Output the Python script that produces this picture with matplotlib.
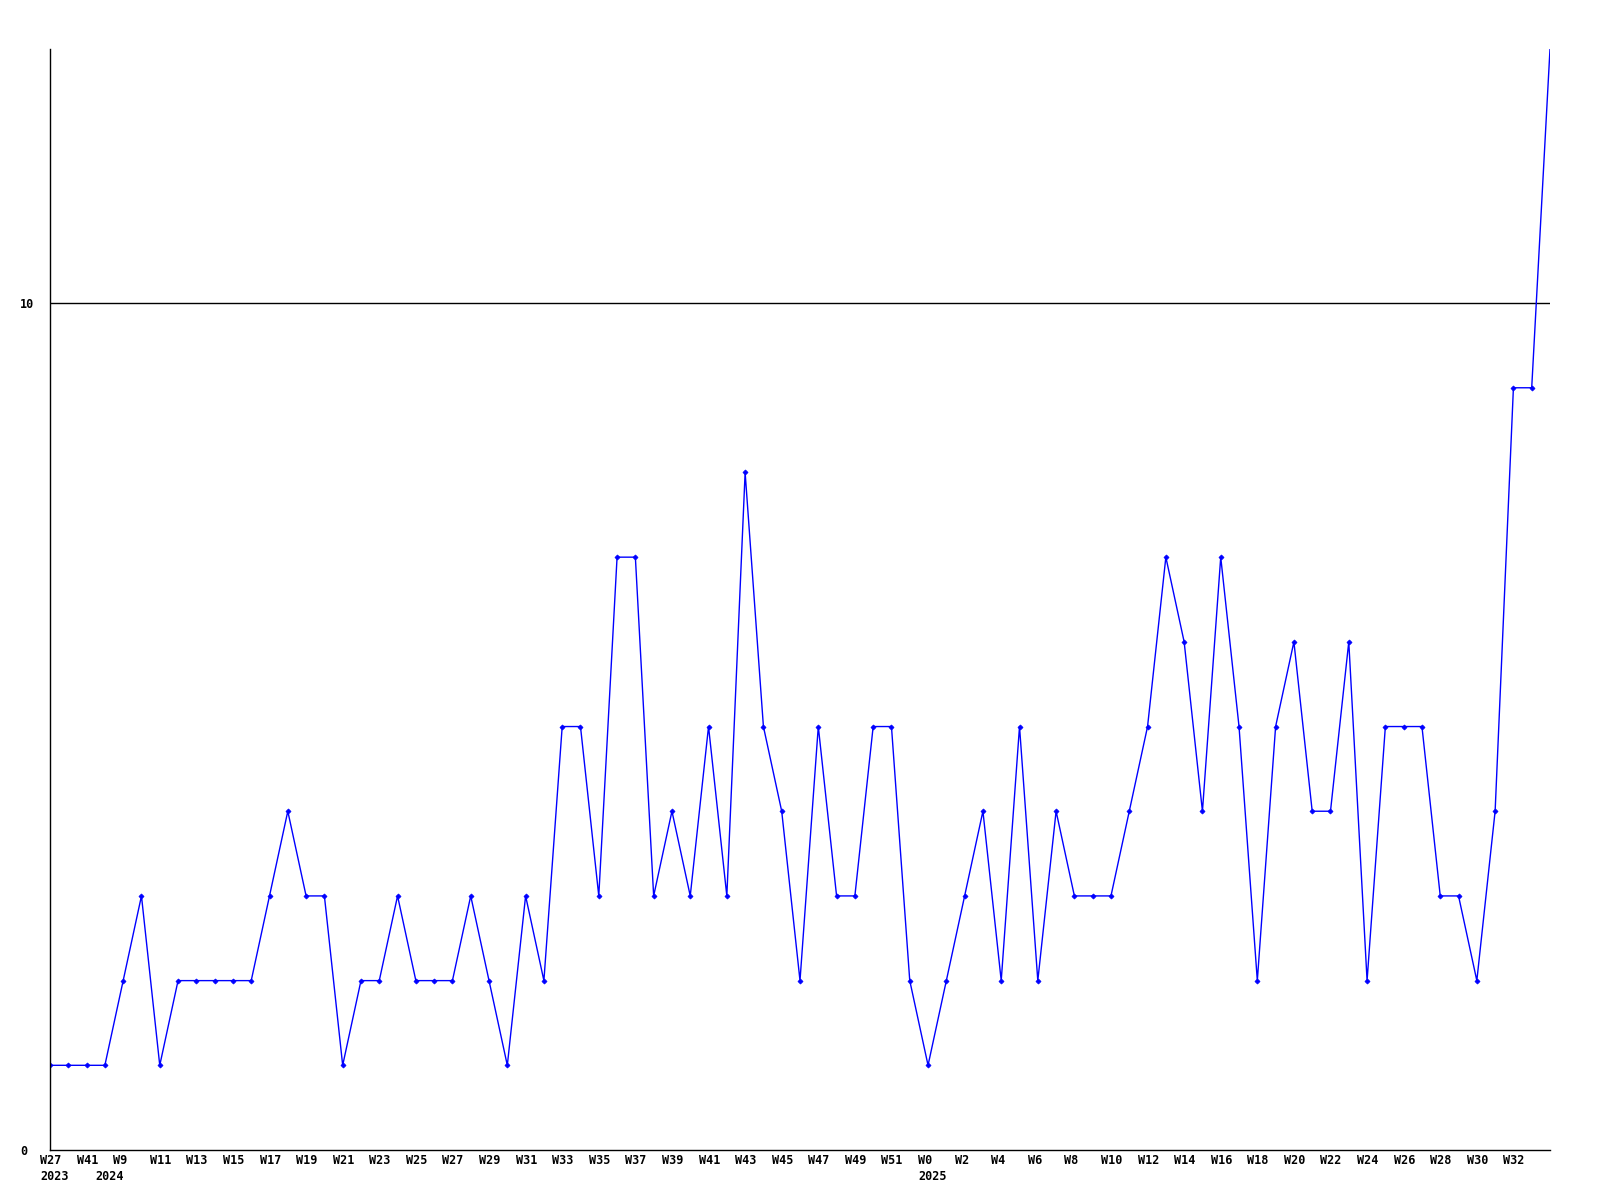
import matplotlib
matplotlib.use("Agg")
import matplotlib.pyplot as plt
from matplotlib.transforms import blended_transform_factory, ScaledTranslation

# weekly counts, one point per week
values = [1, 1, 1, 1, 2, 3, 1, 2, 2, 2, 2, 2, 3, 4, 3, 3, 1, 2, 2, 3,
          2, 2, 2, 3, 2, 1, 3, 2, 5, 5, 3, 7, 7, 3, 4, 3, 5, 3, 8, 5,
          4, 2, 5, 3, 3, 5, 5, 2, 1, 2, 3, 4, 2, 5, 2, 4, 3, 3, 3, 4,
          5, 7, 6, 4, 7, 5, 2, 5, 6, 4, 4, 6, 2, 5, 5, 5, 3, 3, 2, 4,
          9, 9, 13]

week_labels = (["W27", "W41"]
               + ["W%d" % w for w in range(9, 52, 2)]
               + ["W%d" % w for w in range(0, 33, 2)])
week_idx = list(range(0, 81, 2))

year_labels = ["2023", "2024", "2025"]
year_idx = [0, 3, 48]

y_ticks = [0, 10]

font = dict(family="DejaVu Sans Mono", fontweight="bold", fontsize=8.5)

fig = plt.figure(figsize=(16, 12), dpi=100)
ax = fig.add_axes([50 / 1600, 1 - 1150 / 1200, 1500 / 1600, 1101 / 1200])

x = list(range(len(values)))
ax.plot(x, values, color="#0000ff", linewidth=1.0, marker="D",
        markersize=2.6, markeredgewidth=0.5, markevery=list(range(len(values) - 1)))

ax.axhline(10, color="black", linewidth=1.0, zorder=0)

ax.set_xlim(0, len(values) - 1)
ax.set_ylim(0, 13)

for s in ["top", "right"]:
    ax.spines[s].set_visible(False)
for s in ["left", "bottom"]:
    ax.spines[s].set_linewidth(1.0)
    ax.spines[s].set_color("black")

ax.set_xticks([])
ax.set_yticks(y_ticks)
ax.set_yticklabels([str(v) for v in y_ticks], ha="left", **font)
ax.tick_params(axis="y", length=0, pad=21.5)

trans = blended_transform_factory(ax.transData, ax.transAxes)
off1 = trans + ScaledTranslation(-10 / 100, -11 / 100, fig.dpi_scale_trans)
off2 = trans + ScaledTranslation(-10 / 100, -27 / 100, fig.dpi_scale_trans)
for i, lab in zip(week_idx, week_labels):
    ax.text(i, 0, lab, transform=off1, ha="left", va="center", **font)
for i, lab in zip(year_idx, year_labels):
    ax.text(i, 0, lab, transform=off2, ha="left", va="center", **font)

fig.savefig("out.png", dpi=100)
